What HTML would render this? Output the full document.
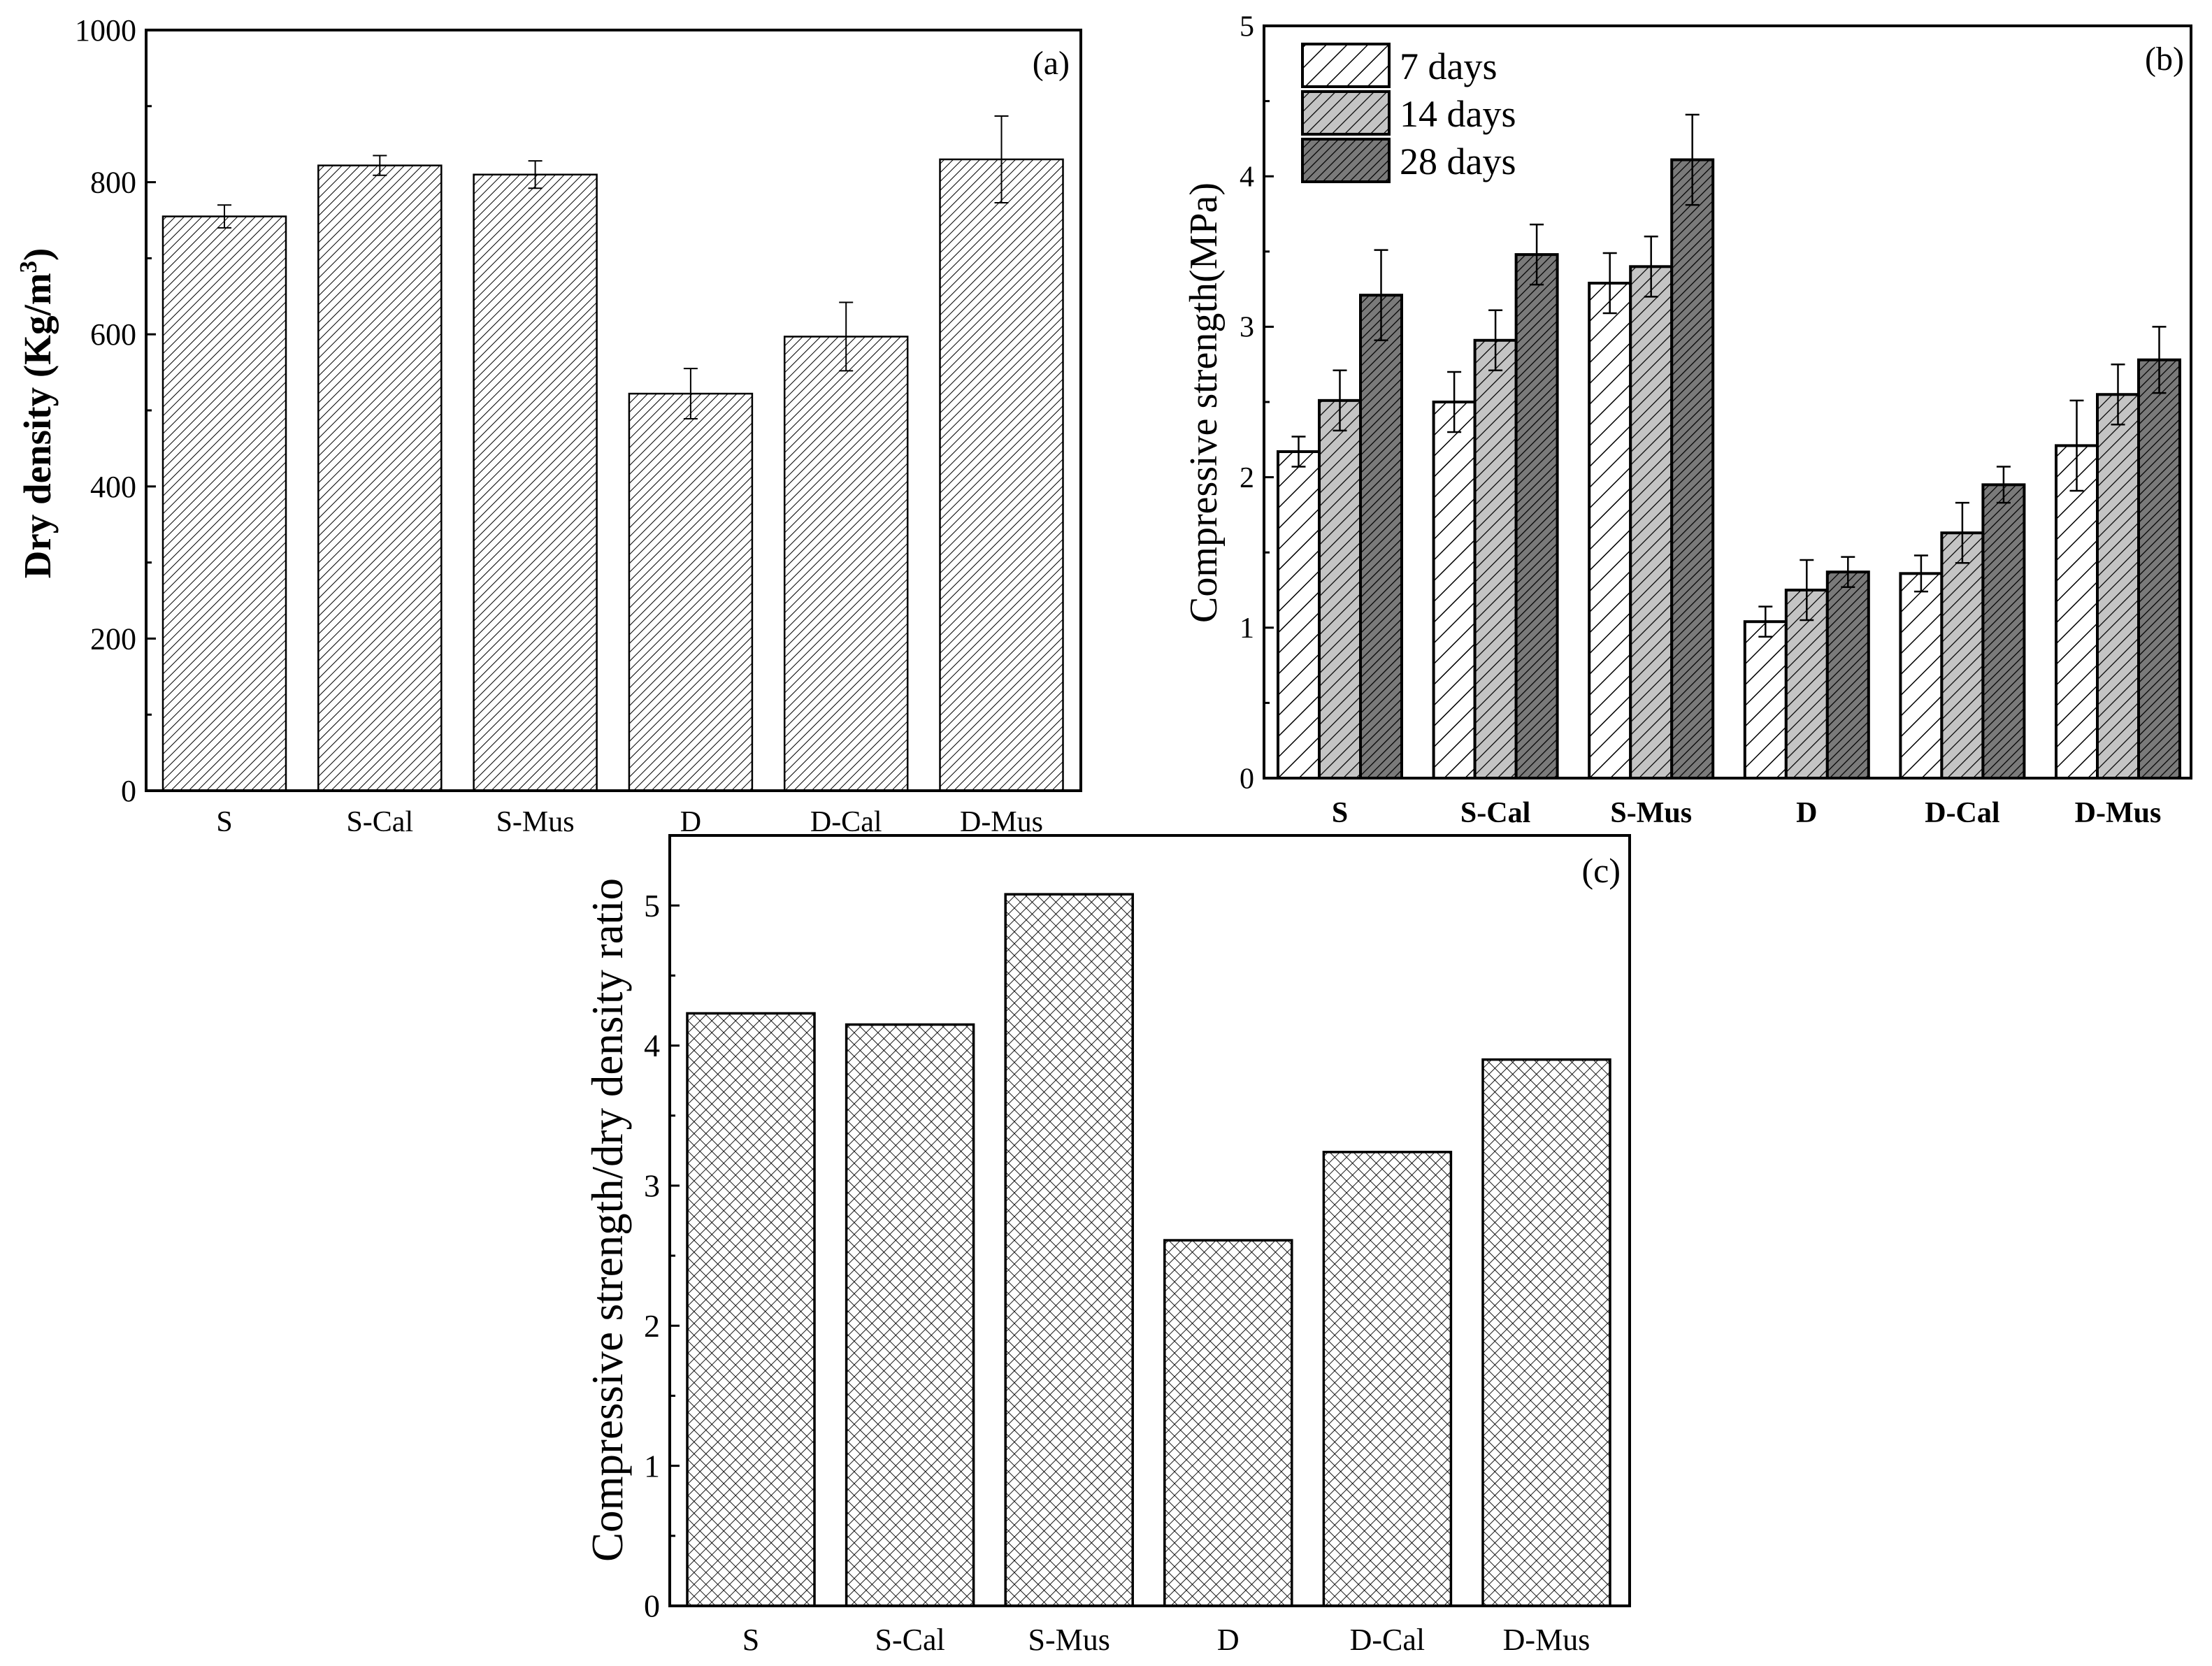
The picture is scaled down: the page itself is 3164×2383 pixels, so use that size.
<!DOCTYPE html>
<html><head><meta charset="utf-8"><title>Dry density and compressive strength charts</title>
<style>
html,body{margin:0;padding:0;background:#fff;}
svg{display:block;font-family:"Liberation Serif",serif;}
</style></head>
<body>
<svg id="fig" width="3164" height="2383" viewBox="0 0 3164 2383" xmlns="http://www.w3.org/2000/svg">
<defs>
  <pattern id="hatchA" patternUnits="userSpaceOnUse" width="9" height="9" patternTransform="rotate(45)">
    <rect width="9" height="9" fill="#fff"/><line x1="0" y1="0" x2="0" y2="9" stroke="#000" stroke-width="2"/>
  </pattern>
  <pattern id="hatch7" patternUnits="userSpaceOnUse" width="21" height="21" patternTransform="rotate(45)">
    <rect width="21" height="21" fill="#fff"/><line x1="0" y1="0" x2="0" y2="21" stroke="#000" stroke-width="3"/>
  </pattern>
  <pattern id="hatch14" patternUnits="userSpaceOnUse" width="13" height="13" patternTransform="rotate(45)">
    <rect width="13" height="13" fill="#c4c4c4"/><line x1="0" y1="0" x2="0" y2="13" stroke="#000" stroke-width="2.5"/>
  </pattern>
  <pattern id="hatch28" patternUnits="userSpaceOnUse" width="9" height="9" patternTransform="rotate(45)">
    <rect width="9" height="9" fill="#7a7a7a"/><line x1="0" y1="0" x2="0" y2="9" stroke="#000" stroke-width="2.5"/>
  </pattern>
  <pattern id="cross" patternUnits="userSpaceOnUse" width="12" height="12" patternTransform="rotate(45)">
    <rect width="12" height="12" fill="#fff"/>
    <line x1="0" y1="0" x2="0" y2="12" stroke="#000" stroke-width="1.8"/>
    <line x1="0" y1="0" x2="12" y2="0" stroke="#000" stroke-width="1.8"/>
  </pattern>
</defs>
<g id="pa"></g>
<g id="pb"></g>
<g id="pc"></g>
</svg>
<script>
// shared categories
const categories = ["S","S-Cal","S-Mus","D","D-Cal","D-Mus"];
// panel a
const densityValues = [755, 822, 810, 522, 597, 830];
const densityErrors = [15, 13, 18, 33, 45, 57];
const densityTicks = [0, 200, 400, 600, 800, 1000];
// panel b
const seriesNames = ["7 days","14 days","28 days"];
const strength7 = [2.17, 2.50, 3.29, 1.04, 1.36, 2.21];
const strength14 = [2.51, 2.91, 3.40, 1.25, 1.63, 2.55];
const strength28 = [3.21, 3.48, 4.11, 1.37, 1.95, 2.78];
const err7 = [0.10, 0.20, 0.20, 0.10, 0.12, 0.30];
const err14 = [0.20, 0.20, 0.20, 0.20, 0.20, 0.20];
const err28 = [0.30, 0.20, 0.30, 0.10, 0.12, 0.22];
const strengthTicks = [0, 1, 2, 3, 4, 5];
// panel c
const ratioValues = [4.23, 4.15, 5.08, 2.61, 3.24, 3.90];
const ratioTicks = [0, 1, 2, 3, 4, 5];

const NS = "http://www.w3.org/2000/svg";
function mk(parent, tag, attrs, text) {
  const e = document.createElementNS(NS, tag);
  for (const k in attrs) e.setAttribute(k, attrs[k]);
  if (text !== undefined) e.textContent = text;
  parent.appendChild(e);
  return e;
}

function axesFrame(g, L, R, T, B, ymin, ymax, ticks, minorStep, fs, labelFmt) {
  const y = v => B - (v - ymin) / (ymax - ymin) * (B - T);
  for (let v = ymin; v <= ymax + 1e-9; v += minorStep) {
    const isMajor = ticks.some(t => Math.abs(t - v) < 1e-9);
    const t = mk(g, "line", {x1: L, x2: L + (isMajor ? 14 : 8), y1: y(v), y2: y(v), stroke: "#000", "stroke-width": 3});
    
    
  }
  ticks.forEach(v => {
    const tx = mk(g, "text", {x: L - 14, y: y(v) + fs * 0.34, "text-anchor": "end", "font-size": fs}, labelFmt(v));
    
    
  });
  return y;
}

function frame(g, L, R, T, B) {
  const f = mk(g, "rect", {x: L, y: T, width: R - L, height: B - T, fill: "none", stroke: "#000", "stroke-width": 4});
  
  
}

function errbar(g, cx, y1, y2, cap, sw) {
  const e = mk(g, "g", {});
  
  
  mk(e, "line", {x1: cx, x2: cx, y1: y1, y2: y2, stroke: "#000", "stroke-width": sw});
  mk(e, "line", {x1: cx - cap, x2: cx + cap, y1: y1, y2: y1, stroke: "#000", "stroke-width": sw});
  mk(e, "line", {x1: cx - cap, x2: cx + cap, y1: y2, y2: y2, stroke: "#000", "stroke-width": sw});
}

// ---------- Panel A ----------
(function(){
  const g = document.getElementById("pa");
  const L = 209, R = 1546, T = 43, B = 1131;
  const y = axesFrame(g, L, R, T, B, 0, 1000, densityTicks, 100, 44, v => String(v));
  const x0 = 321, pitch = 222.3, bw = 176;
  categories.forEach((c, i) => {
    const cx = x0 + i * pitch, v = densityValues[i];
    const b = mk(g, "rect", {x: cx - bw/2, y: y(v), width: bw, height: B - y(v), fill: "url(#hatchA)", stroke: "#000", "stroke-width": 2.5});
    
    
    errbar(g, cx, y(v + densityErrors[i]), y(v - densityErrors[i]), 10, 2);
    const t = mk(g, "text", {x: cx, y: 1189, "text-anchor": "middle", "font-size": 42}, c);
    
    
  });
  frame(g, L, R, T, B);
  const yl = mk(g, "text", {x: 0, y: 0, transform: "translate(72,591) rotate(-90)", "text-anchor": "middle", "font-size": 55, "font-weight": "bold"}, "");
  
  
  mk(yl, "tspan", {}, "Dry density (Kg/m");
  mk(yl, "tspan", {dy: -20, "font-size": 35}, "3");
  mk(yl, "tspan", {dy: 20}, ")");
  const p = mk(g, "text", {x: 1530, y: 106, "text-anchor": "end", "font-size": 48}, "(a)");
  
  
})();

// ---------- Panel B ----------
(function(){
  const g = document.getElementById("pb");
  const L = 1808, R = 3134, T = 37, B = 1113;
  const y = axesFrame(g, L, R, T, B, 0, 5, strengthTicks, 0.5, 42, v => String(v));
  const x0 = 1916.5, pitch = 222.6, bw = 59;
  const series = [strength7, strength14, strength28];
  const errs = [err7, err14, err28];
  const fills = ["url(#hatch7)", "url(#hatch14)", "url(#hatch28)"];
  categories.forEach((c, i) => {
    const gc = x0 + i * pitch;
    series.forEach((s, k) => {
      const cx = gc + (k - 1) * bw, v = s[i];
      const b = mk(g, "rect", {x: cx - bw/2, y: y(v), width: bw, height: B - y(v), fill: fills[k], stroke: "#000", "stroke-width": 4});
      
      
      errbar(g, cx, y(v + errs[k][i]), y(v - errs[k][i]), 10, 2.5);
    });
    const t = mk(g, "text", {x: gc, y: 1176, "text-anchor": "middle", "font-size": 42, "font-weight": "bold"}, c);
    
    
  });
  frame(g, L, R, T, B);
  // legend
  const lg = mk(g, "g", {});
  
  
  const rows = [63, 131, 199];
  seriesNames.forEach((n, k) => {
    const r = mk(lg, "rect", {x: 1863, y: rows[k], width: 124, height: 61, fill: fills[k], stroke: "#000", "stroke-width": 4});
    
    
    const t = mk(lg, "text", {x: 2002, y: rows[k] + 50, "font-size": 54}, n);
    
    
  });
  const yl = mk(g, "text", {x: 0, y: 0, transform: "translate(1740,576) rotate(-90)", "text-anchor": "middle", "font-size": 56}, "Compressive strength(MPa)");
  
  
  const p = mk(g, "text", {x: 3124, y: 100, "text-anchor": "end", "font-size": 48}, "(b)");
  
  
})();

// ---------- Panel C ----------
(function(){
  const g = document.getElementById("pc");
  const L = 958, R = 2331, T = 1195, B = 2297;
  const y = axesFrame(g, L, R, T, B, 0, 5.5, ratioTicks, 0.5, 46, v => String(v));
  const x0 = 1074, pitch = 227.6, bw = 182;
  categories.forEach((c, i) => {
    const cx = x0 + i * pitch, v = ratioValues[i];
    const b = mk(g, "rect", {x: cx - bw/2, y: y(v), width: bw, height: B - y(v), fill: "url(#cross)", stroke: "#000", "stroke-width": 3.5});
    
    
    const t = mk(g, "text", {x: cx, y: 2360, "text-anchor": "middle", "font-size": 44}, c);
    
    
  });
  frame(g, L, R, T, B);
  const yl = mk(g, "text", {x: 0, y: 0, transform: "translate(890,1745) rotate(-90)", "text-anchor": "middle", "font-size": 63}, "Compressive strength/dry density ratio");
  
  
  const p = mk(g, "text", {x: 2318, y: 1262, "text-anchor": "end", "font-size": 50}, "(c)");
  
  
})();
</script>
</body></html>
